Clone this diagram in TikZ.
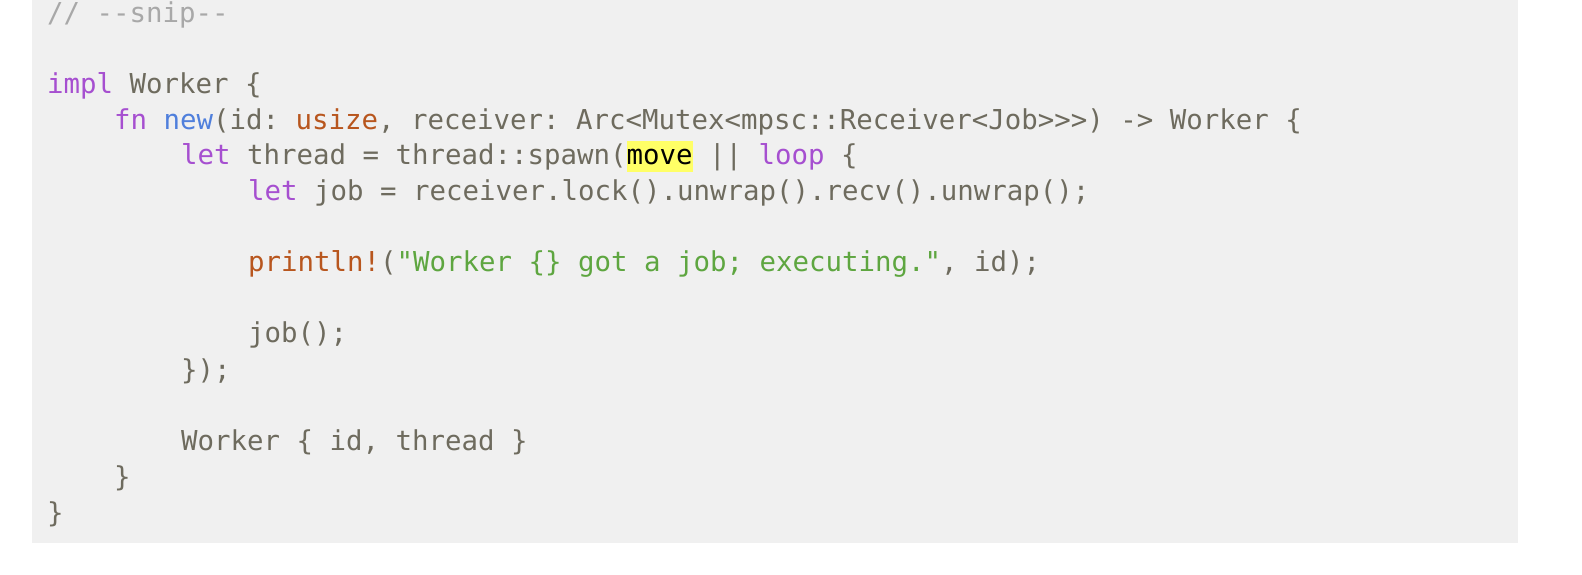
\documentclass[tikz,border=0pt]{standalone}
\usepackage{fontspec}
\setmonofont{DejaVu Sans Mono}
\definecolor{bg}{HTML}{F0F0F0}
\definecolor{pl}{HTML}{6E6B5E}
\definecolor{kw}{HTML}{A64FD0}
\definecolor{fnc}{HTML}{4F7FDC}
\definecolor{ty}{HTML}{B8561E}
\definecolor{st}{HTML}{5EA640}
\definecolor{cm}{HTML}{A8A8A8}
\definecolor{hl}{HTML}{FFFF66}
\newcommand\K[1]{\textcolor{kw}{#1}}
\newcommand\F[1]{\textcolor{fnc}{#1}}
\newcommand\T[1]{\textcolor{ty}{#1}}
\newcommand\Sg[1]{\textcolor{st}{#1}}
\newcommand\Cm[1]{\textcolor{cm}{#1}}
\begin{document}
\begin{tikzpicture}[x=1pt,y=-1pt,
  ln/.style={anchor=base west,inner sep=0pt,font=\fontsize{27.4}{30}\ttfamily,text=pl}]
\useasboundingbox (0,0) rectangle (1582,574);
\fill[bg] (32,0) rectangle (1518,543);
\node[ln] (l1) at (47,22) {\Cm{// -{}-snip-{}-}};
\node[ln] (l3) at (47,93) {\K{impl} Worker \{};
\node[ln] (l4) at (114,129) {\K{fn} \F{new}(id: \T{usize}, receiver: Arc<Mutex<mpsc::Receiver<Job>{}>{}>) -> Worker \{};
\node[ln] (l5) at (181,164) {\K{let} thread = thread::spawn({\setlength\fboxsep{0pt}\colorbox{hl}{\rule[-8pt]{0pt}{31pt}\textcolor{black}{move}}}\ || \K{loop} \{};
\node[ln] (l6) at (248,200) {\K{let} job = receiver.lock().unwrap().recv().unwrap();};
\node[ln] (l8) at (248,271) {\T{println!}(\Sg{"Worker \{\} got a job; executing."}, id);};
\node[ln] (l10) at (248,342) {job();};
\node[ln] (l11) at (181,379) {\});};
\node[ln] (l13) at (181,450) {Worker \{ id, thread \}};
\node[ln] (l14) at (114,486) {\}};
\node[ln] (l15) at (47,522) {\}};
\end{tikzpicture}
\end{document}
